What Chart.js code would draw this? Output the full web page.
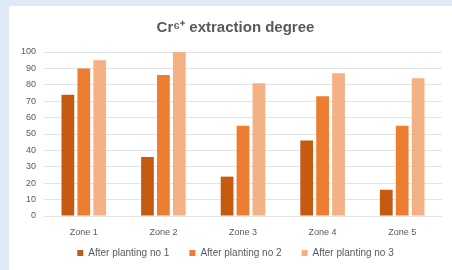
<!DOCTYPE html>
<html>
<head>
<meta charset="utf-8">
<script src="https://cdn.jsdelivr.net/npm/chart.js@4/dist/chart.umd.min.js"></script>
<style>
  html, body { margin: 0; padding: 0; background: #deebf7; }
  #card { position: absolute; left: 9px; top: 6px; width: 443px; height: 264px; background: #fff; }
</style>
</head>
<body>
<div id="card"><canvas id="c" width="443" height="264"></canvas></div>
<script>
// ─── data ───
const zones   = ['Zone 1', 'Zone 2', 'Zone 3', 'Zone 4', 'Zone 5'];
const seriesNames = ['After planting no 1', 'After planting no 2', 'After planting no 3'];
const planting1 = [74, 36, 24, 46, 16];
const planting2 = [90, 86, 55, 73, 55];
const planting3 = [95, 100, 81, 87, 84];
const colors = ['#c55a11', '#ed7d31', '#f4b183'];

Chart.defaults.font.family = 'Liberation Sans';
Chart.defaults.color = '#595959';

// axes are kept narrow so title/legend centre like the original;
// widen the label clip boxes after layout so tick text is not cut
const unclipLabels = {
  id: 'unclipLabels',
  afterLayout(chart) {
    chart.scales.y.left = 0;
    chart.scales.x.bottom = chart.height;
  },
};

new Chart(document.getElementById('c').getContext('2d'), {
  type: 'bar',
  data: {
    labels: zones,
    datasets: [planting1, planting2, planting3].map((d, i) => ({
      label: seriesNames[i],
      data: d,
      backgroundColor: colors[i],
      borderWidth: 0,
      categoryPercentage: 0.6,
      barPercentage: 0.8,
    })),
  },
  options: {
    responsive: false, animation: false,
    layout: { padding: { left: 20, right: 10, top: 0, bottom: 2 } },
    plugins: {
      title: {
        display: true,
        text: 'Cr\u2076\u207A extraction degree',
        color: '#595959',
        font: { size: 15, weight: 'bold' },
        padding: { top: 13, bottom: 15 },
      },
      legend: {
        position: 'bottom',
        labels: { boxWidth: 6, boxHeight: 6, font: { size: 10 }, padding: 20 },
      },
      tooltip: { enabled: false },
    },
    scales: {
      x: {
        grid: { display: false, drawTicks: false }, border: { display: false },
        ticks: { font: { size: 9 }, padding: 11 },
        afterFit: s => { s.height = 12; },
      },
      y: {
        min: 0, max: 100,
        grid: { color: '#e3e3e3', drawTicks: false }, border: { display: false },
        ticks: { stepSize: 10, font: { size: 9 }, padding: 8 },
        afterFit: s => { s.width = 15; },
      },
    },
  },
  plugins: [unclipLabels],
});
</script>
</body>
</html>
